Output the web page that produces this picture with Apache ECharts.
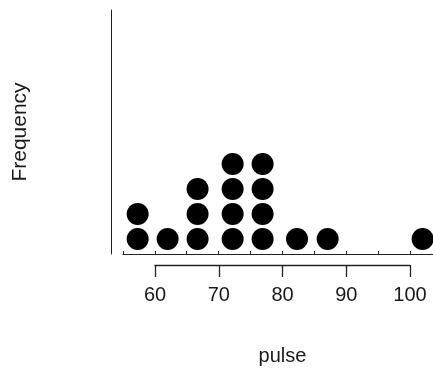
<!DOCTYPE html>
<html>
<head>
<meta charset="utf-8">
<script src="https://cdn.jsdelivr.net/npm/echarts@6/dist/echarts.min.js"></script>
<style>html,body{margin:0;padding:0;background:#fff;}#c{width:433px;height:372px;}</style>
</head>
<body>
<div id="c"></div>
<script>
// Dot positions (pulse value of each stack) and number of dots in each stack
var dotX = [57.3, 62.0, 66.7, 72.2, 76.9, 82.3, 87.1, 102.0];
var dotCount = [2, 1, 3, 4, 4, 1, 1, 1];
var tickLabels = [60, 70, 80, 90, 100];

var points = [];
for (var i = 0; i < dotX.length; i++) {
  for (var k = 1; k <= dotCount[i]; k++) points.push([dotX[i], k]);
}

var chart = echarts.init(document.getElementById('c'), null, {renderer: 'canvas'});
var font = '"Liberation Sans", Arial, sans-serif';
chart.setOption({
  animation: false,
  backgroundColor: '#fff',
  grid: [
    {left: 123, right: 0, top: 10, bottom: 118},
    {left: 155, right: 23, top: 200, bottom: 107}
  ],
  xAxis: [
    {gridIndex: 0, type: 'value', position: 'bottom', min: 55, max: 103.63, interval: 5,
     axisLine: {show: true, onZero: false, lineStyle: {color: '#222', width: 1}},
     axisTick: {show: true, inside: true, length: 3, lineStyle: {color: '#222'}},
     axisLabel: {show: false}, splitLine: {show: false}},
    {gridIndex: 1, type: 'value', position: 'bottom', min: 60, max: 100, interval: 10,
     axisLine: {show: true, onZero: false, lineStyle: {color: '#222', width: 1.3}},
     axisTick: {show: true, length: 12, lineStyle: {color: '#222', width: 1.3}},
     axisLabel: {show: true, color: '#1a1a1a', fontSize: 20, fontFamily: font, margin: 20,
       formatter: function (v) { return tickLabels.indexOf(v) >= 0 ? String(v) : ''; }},
     splitLine: {show: false},
     name: 'pulse', nameLocation: 'middle', nameGap: 81,
     nameTextStyle: {color: '#1a1a1a', fontSize: 20, fontFamily: font}}
  ],
  yAxis: [
    {gridIndex: 0, type: 'value', min: 0.4, max: 10.16, offset: 12,
     axisLine: {show: true, onZero: false, lineStyle: {color: '#222', width: 1}},
     axisTick: {show: false}, axisLabel: {show: false}, splitLine: {show: false},
     name: 'Frequency', nameLocation: 'middle', nameGap: 80,
     nameTextStyle: {color: '#1a1a1a', fontSize: 21, fontFamily: font}},
    {gridIndex: 1, type: 'value', min: 0, max: 1,
     axisLine: {show: false}, axisTick: {show: false}, axisLabel: {show: false}, splitLine: {show: false}}
  ],
  series: [{
    type: 'scatter', xAxisIndex: 0, yAxisIndex: 0,
    symbol: 'circle', symbolSize: 22, clip: false,
    itemStyle: {color: '#000', opacity: 1},
    data: points
  }]
});
</script>
</body>
</html>
